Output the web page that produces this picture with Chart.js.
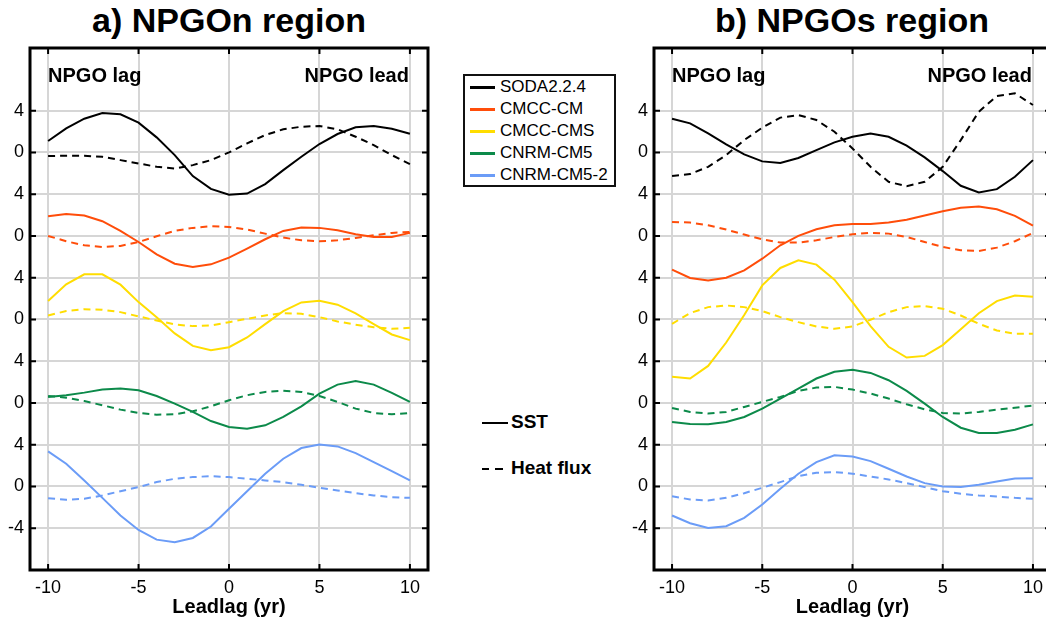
<!DOCTYPE html>
<html>
<head>
<meta charset="utf-8">
<script src="https://cdn.jsdelivr.net/npm/chart.js@4/dist/chart.umd.min.js"></script>
<style>
  html, body { margin: 0; padding: 0; background: #fff; overflow: hidden; }
  body { position: relative; width: 1046px; height: 623px; font-family: "Liberation Sans", Arial, sans-serif; }
  canvas { position: absolute; top: 0; }
  .title { position: absolute; top: 1px; font-weight: bold; font-size: 34px; text-align: center; color: #000; }
  #modelLegend { position: absolute; left: 463px; top: 74px; width: 153px; height: 113px; box-sizing: border-box; border: 2px solid #111; }
  #modelLegend .row { position: absolute; left: 0; height: 22px; line-height: 22px; font-size: 17px; white-space: nowrap; }
  #modelLegend .swatch { display: inline-block; width: 25px; height: 0; border-top: 3px solid; vertical-align: middle; margin: 0 5px 0 5px; }
  .typeRow { position: absolute; left: 482px; height: 24px; line-height: 24px; font-size: 19px; font-weight: bold; white-space: nowrap; }
  .typeRow .seg { display: inline-block; height: 0; border-top: 2px solid #000; vertical-align: middle; }
</style>
</head>
<body>
<div class="title" style="left:29px;width:400px;">a) NPGOn region</div>
<div class="title" style="left:652px;width:400px;">b) NPGOs region</div>
<div id="modelLegend"></div>
<div class="typeRow" style="top:410px;"><span class="seg" style="width:26px;margin-right:3px;"></span>SST</div>
<div class="typeRow" style="top:456px;"><span class="seg" style="width:7px;margin-right:6px;"></span><span class="seg" style="width:8px;margin-right:8px;"></span>Heat flux</div>
<canvas id="panelA" width="440" height="623" style="left:0px;width:440px;height:623px;"></canvas>
<canvas id="panelB" width="436" height="623" style="left:624px;width:436px;height:623px;"></canvas>
<script>
// lead/lag in years
const leadLag = [-10, -9, -8, -7, -6, -5, -4, -3, -2, -1, 0, 1, 2, 3, 4, 5, 6, 7, 8, 9, 10];

const models = ['SODA2.2.4', 'CMCC-CM', 'CMCC-CMS', 'CNRM-CM5', 'CNRM-CM5-2'];
const modelColors = ['#000000', '#ff4d0a', '#ffdd00', '#0c8a4a', '#6b9cf7'];
// each model is shifted up so the curves stack
const modelOffsets = [32, 24, 16, 8, 0];

const xTickValues = [-10, -5, 0, 5, 10];
const yTickValues = [-4, 0, 4, 8, 12, 16, 20, 24, 28, 32, 36];
const yTickLabels = ['-4', '0', '4', '0', '4', '0', '4', '0', '4', '0', '4'];

// a) NPGOn region, SST (solid), rows follow models
const sstNPGOn = [
  [1.09, 2.30, 3.23, 3.78, 3.65, 2.85, 1.44, -0.26, -2.27, -3.49, -4.06, -3.94, -3.04, -1.70, -0.42, 0.80, 1.76, 2.40, 2.53, 2.27, 1.79],
  [1.89, 2.11, 1.95, 1.41, 0.48, -0.58, -1.76, -2.66, -2.98, -2.72, -2.08, -1.22, -0.32, 0.48, 0.80, 0.77, 0.54, 0.16, -0.10, -0.10, 0.29],
  [1.76, 3.36, 4.32, 4.32, 3.33, 1.66, 0.20, -1.34, -2.53, -2.94, -2.66, -1.73, -0.45, 0.80, 1.63, 1.79, 1.41, 0.58, -0.45, -1.44, -1.98],
  [0.58, 0.74, 0.99, 1.28, 1.38, 1.22, 0.67, -0.06, -0.86, -1.73, -2.30, -2.46, -2.14, -1.34, -0.32, 0.90, 1.76, 2.11, 1.76, 0.96, 0.10],
  [3.36, 2.18, 0.58, -1.09, -2.78, -4.16, -5.09, -5.34, -4.93, -3.84, -2.14, -0.45, 1.22, 2.66, 3.68, 4.03, 3.84, 3.20, 2.34, 1.47, 0.58]
];
// a) NPGOn region, heat flux (dashed)
const hfNPGOn = [
  [-0.35, -0.32, -0.32, -0.42, -0.74, -1.06, -1.38, -1.54, -1.22, -0.74, 0.00, 0.86, 1.66, 2.21, 2.46, 2.53, 2.21, 1.50, 0.70, -0.26, -1.12],
  [0.00, -0.51, -0.90, -1.06, -0.96, -0.58, -0.03, 0.48, 0.77, 0.93, 0.86, 0.61, 0.22, -0.16, -0.42, -0.51, -0.42, -0.19, 0.06, 0.29, 0.38],
  [0.38, 0.80, 0.98, 0.93, 0.70, 0.29, -0.10, -0.48, -0.64, -0.58, -0.26, 0.06, 0.38, 0.61, 0.54, 0.22, -0.19, -0.51, -0.74, -0.90, -0.80],
  [0.67, 0.51, 0.19, -0.22, -0.64, -0.96, -1.12, -1.09, -0.80, -0.32, 0.26, 0.74, 1.06, 1.18, 1.06, 0.67, 0.10, -0.54, -0.96, -1.09, -0.96],
  [-1.12, -1.28, -1.18, -0.86, -0.45, -0.06, 0.42, 0.74, 0.90, 0.99, 0.90, 0.74, 0.58, 0.42, 0.16, -0.13, -0.38, -0.64, -0.86, -1.02, -1.09]
];
// b) NPGOs region, SST (solid)
const sstNPGOs = [
  [3.23, 2.78, 1.82, 0.77, -0.19, -0.86, -1.02, -0.54, 0.22, 0.96, 1.50, 1.82, 1.50, 0.64, -0.48, -1.79, -3.20, -3.84, -3.52, -2.34, -0.74],
  [-3.23, -4.03, -4.26, -4.00, -3.30, -2.18, -0.90, 0.00, 0.64, 1.02, 1.15, 1.15, 1.28, 1.54, 1.95, 2.37, 2.69, 2.82, 2.56, 1.92, 0.99],
  [-5.50, -5.66, -4.45, -2.21, 0.42, 3.26, 4.93, 5.66, 5.25, 3.81, 1.66, -0.64, -2.62, -3.65, -3.49, -2.46, -0.93, 0.60, 1.76, 2.30, 2.18],
  [-1.82, -2.02, -2.05, -1.82, -1.34, -0.54, 0.42, 1.38, 2.34, 2.98, 3.17, 2.88, 2.18, 1.15, -0.06, -1.34, -2.37, -2.88, -2.88, -2.56, -2.05],
  [-2.78, -3.52, -3.97, -3.81, -3.01, -1.73, -0.22, 1.22, 2.34, 2.98, 2.88, 2.43, 1.70, 0.96, 0.32, 0.00, -0.06, 0.16, 0.48, 0.77, 0.80]
];
// b) NPGOs region, heat flux (dashed)
const hfNPGOs = [
  [-2.27, -2.08, -1.38, -0.26, 1.18, 2.37, 3.33, 3.58, 3.10, 1.98, 0.38, -1.38, -2.82, -3.23, -2.82, -1.38, 1.18, 3.90, 5.41, 5.66, 4.54],
  [1.34, 1.28, 1.02, 0.61, 0.13, -0.32, -0.64, -0.64, -0.42, -0.10, 0.16, 0.29, 0.22, -0.10, -0.58, -1.06, -1.38, -1.44, -1.12, -0.51, 0.29],
  [-0.42, 0.61, 1.18, 1.34, 1.18, 0.80, 0.22, -0.26, -0.67, -0.90, -0.67, -0.03, 0.70, 1.18, 1.28, 1.02, 0.38, -0.42, -1.06, -1.38, -1.38],
  [-0.48, -0.86, -1.02, -0.86, -0.38, 0.10, 0.58, 1.15, 1.47, 1.54, 1.28, 0.90, 0.42, -0.13, -0.61, -0.96, -1.02, -0.86, -0.64, -0.45, -0.26],
  [-0.93, -1.25, -1.34, -1.09, -0.64, -0.13, 0.42, 0.99, 1.31, 1.38, 1.22, 0.96, 0.67, 0.32, -0.06, -0.45, -0.70, -0.86, -0.96, -1.09, -1.18]
];

Chart.defaults.font.family = '"Liberation Sans", Arial, sans-serif';
Chart.defaults.color = '#000';

// model legend (html, real text)
const legendBox = document.getElementById('modelLegend');
models.forEach((name, i) => {
  const row = document.createElement('div');
  row.className = 'row';
  row.style.top = (i * 22) + 'px';
  row.innerHTML = `<span class="swatch" style="border-color:${modelColors[i]}"></span>${name}`;
  legendBox.appendChild(row);
});

// box, inward ticks and the lag/lead notes
const framePlugin = {
  id: 'frame',
  afterDraw(chart) {
    const { ctx, chartArea: a, scales } = chart;
    ctx.save();
    ctx.strokeStyle = '#000';
    ctx.lineWidth = 2;
    xTickValues.forEach(v => {
      const px = scales.x.getPixelForValue(v);
      ctx.beginPath();
      ctx.moveTo(px, a.bottom); ctx.lineTo(px, a.bottom - 6);
      ctx.moveTo(px, a.top); ctx.lineTo(px, a.top + 6);
      ctx.stroke();
    });
    yTickValues.forEach(v => {
      const py = scales.y.getPixelForValue(v);
      ctx.beginPath();
      ctx.moveTo(a.left, py); ctx.lineTo(a.left + 6, py);
      ctx.moveTo(a.right, py); ctx.lineTo(a.right - 6, py);
      ctx.stroke();
    });
    ctx.lineWidth = 3;
    ctx.strokeRect(a.left, a.top, a.right - a.left, a.bottom - a.top);

    ctx.fillStyle = '#000';
    ctx.font = 'bold 20px "Liberation Sans", Arial, sans-serif';
    ctx.textBaseline = 'middle';
    const ny = scales.y.getPixelForValue(39.3);
    ctx.textAlign = 'left';
    ctx.fillText('NPGO lag', scales.x.getPixelForValue(-10), ny);
    ctx.textAlign = 'right';
    ctx.fillText('NPGO lead', scales.x.getPixelForValue(10) - 1, ny);
    ctx.restore();
  }
};

function buildDatasets(sst, hf) {
  const sets = [];
  models.forEach((name, i) => {
    sets.push({
      label: name + ' SST',
      data: leadLag.map((x, j) => ({ x: x, y: sst[i][j] + modelOffsets[i] })),
      borderColor: modelColors[i],
      borderWidth: 2,
      pointRadius: 0,
      tension: 0,
      fill: false
    });
    sets.push({
      label: name + ' heat flux',
      data: leadLag.map((x, j) => ({ x: x, y: hf[i][j] + modelOffsets[i] })),
      borderColor: modelColors[i],
      borderWidth: 2,
      borderDash: [7, 5],
      pointRadius: 0,
      tension: 0,
      fill: false
    });
  });
  return sets;
}

function makePanel(id, sst, hf, rightPad) {
  const ctx = document.getElementById(id).getContext('2d');
  return new Chart(ctx, {
    type: 'line',
    data: { datasets: buildDatasets(sst, hf) },
    options: {
      responsive: false,
      animation: false,
      layout: { padding: { top: 48, right: rightPad, left: 0, bottom: 0 } },
      plugins: { legend: { display: false }, tooltip: { enabled: false } },
      scales: {
        x: {
          type: 'linear',
          min: -11,
          max: 11,
          afterBuildTicks: s => { s.ticks = xTickValues.map(v => ({ value: v })); },
          afterFit: s => { s.height = 53; },
          grid: { color: '#d6d6d6', lineWidth: 2, drawTicks: false },
          border: { display: false },
          ticks: { font: { size: 18 }, padding: 7, maxRotation: 0 },
          title: {
            display: true,
            text: 'Leadlag (yr)',
            font: { size: 20, weight: 'bold' },
            padding: { top: 0, bottom: 4 }
          }
        },
        y: {
          type: 'linear',
          min: -8,
          max: 42,
          afterBuildTicks: s => { s.ticks = yTickValues.map(v => ({ value: v })); },
          afterFit: s => { s.width = 30; },
          grid: { color: '#d6d6d6', lineWidth: 2, drawTicks: false },
          border: { display: false },
          ticks: {
            font: { size: 18 },
            padding: 6,
            callback: v => yTickLabels[yTickValues.indexOf(v)]
          }
        }
      }
    },
    plugins: [framePlugin]
  });
}

makePanel('panelA', sstNPGOn, hfNPGOn, 12);
makePanel('panelB', sstNPGOs, hfNPGOs, 9);
</script>
</body>
</html>
